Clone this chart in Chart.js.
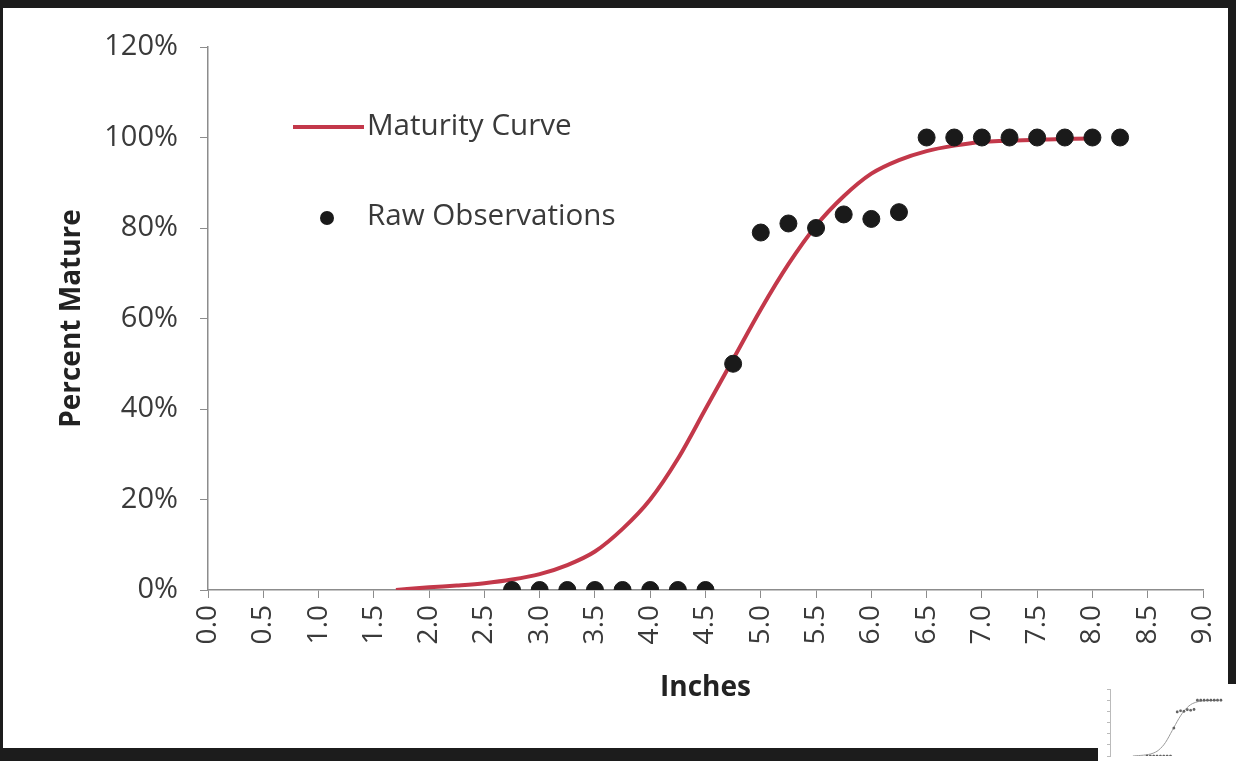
<!DOCTYPE html>
<html>
<head>
<meta charset="utf-8">
<script src="https://cdn.jsdelivr.net/npm/chart.js@4/dist/chart.umd.min.js"></script>
<style>
  html, body { margin: 0; padding: 0; }
  body { width: 1236px; height: 761px; background: #1c1c1c; position: relative; overflow: hidden; font-family: "Open Sans", sans-serif; }
  #panel { position: absolute; left: 3px; top: 8px; width: 1225px; height: 740px; background: #fff; }
  #mainChart { position: absolute; left: 0; top: 0; }
  #thumbBox { position: absolute; left: 1098px; top: 684px; width: 138px; height: 77px; background: #fff; }
  #thumbChart { position: absolute; left: 0; top: 0; }
  .legend { position: absolute; font-size: 29.6px; color: #3a3a3a; line-height: 1; }
  .legend span { position: absolute; white-space: nowrap; }
</style>
</head>
<body>
<div id="panel"></div>
<canvas id="mainChart" width="1236" height="761"></canvas>
<div class="legend">
  <div style="position:absolute;left:293px;top:125px;width:71px;height:4px;background:#c3384a;"></div>
  <span style="left:367px;top:109px;">Maturity Curve</span>
  <div style="position:absolute;left:320px;top:211px;width:14px;height:14px;border-radius:50%;background:#1a1a1a;"></div>
  <span style="left:367px;top:199px;">Raw Observations</span>
</div>
<div id="thumbBox"><canvas id="thumbChart" width="138" height="77"></canvas></div>
<script>
// fitted maturity curve (inches, percent mature)
const curveX = [1.7, 2.0, 2.25, 2.5, 2.75, 3.0, 3.25, 3.5, 3.75, 4.0, 4.25, 4.5, 4.75, 5.0, 5.25, 5.5, 5.75, 6.0, 6.25, 6.5, 6.75, 7.0, 7.5, 8.0];
const curveY = [0.0, 0.6, 1.0, 1.5, 2.3, 3.5, 5.5, 8.5, 13.5, 20, 29, 40, 51, 62, 72, 80.5, 87, 92, 95, 97, 98.2, 99, 99.5, 99.8];

// raw observations
const obsX = [2.75, 3.0, 3.25, 3.5, 3.75, 4.0, 4.25, 4.5, 4.75, 5.0, 5.25, 5.5, 5.75, 6.0, 6.25, 6.5, 6.75, 7.0, 7.25, 7.5, 7.75, 8.0, 8.25];
const obsY = [0, 0, 0, 0, 0, 0, 0, 0, 50, 79, 81, 80, 83, 82, 83.5, 100, 100, 100, 100, 100, 100, 100, 100];

const xTicks = [0, 0.5, 1, 1.5, 2, 2.5, 3, 3.5, 4, 4.5, 5, 5.5, 6, 6.5, 7, 7.5, 8, 8.5, 9];
const yTicks = [0, 20, 40, 60, 80, 100, 120];

const curvePts = curveX.map((x, i) => ({ x: x, y: curveY[i] }));
const obsPts = obsX.map((x, i) => ({ x: x, y: obsY[i] }));

const axisGrey = '#8c8c8c';

new Chart(document.getElementById('mainChart'), {
  type: 'scatter',
  data: {
    datasets: [
      {
        label: 'Raw Observations',
        data: obsPts,
        backgroundColor: '#1a1a1a',
        borderColor: '#1a1a1a',
        pointRadius: 8.5,
        showLine: false,
        order: 0
      },
      {
        label: 'Maturity Curve',
        data: curvePts,
        borderColor: '#c3384a',
        borderWidth: 4,
        pointRadius: 0,
        showLine: true,
        tension: 0.4,
        cubicInterpolationMode: 'monotone',
        order: 1
      }
    ]
  },
  options: {
    responsive: false,
    animation: false,
    layout: { padding: { left: 51, right: 33, top: 47, bottom: 52 } },
    plugins: { legend: { display: false }, tooltip: { enabled: false } },
    scales: {
      x: {
        type: 'linear',
        min: 0,
        max: 9,
        afterBuildTicks: (axis) => { axis.ticks = xTicks.map(v => ({ value: v })); },
        afterFit: (axis) => { axis.height = 119; axis.paddingLeft = 0; axis.paddingRight = 0; },
        ticks: {
          callback: (v) => Number(v).toFixed(1),
          minRotation: 90,
          maxRotation: 90,
          padding: 7,
          color: '#3a3a3a',
          font: { family: 'Open Sans', size: 28 }
        },
        grid: { drawOnChartArea: false, tickLength: 8, color: axisGrey },
        border: { color: axisGrey, width: 1.5 },
        title: { display: true, text: 'Inches', color: '#222', font: { family: 'Open Sans', size: 28, weight: 'bold' } }
      },
      y: {
        min: 0,
        max: 120,
        afterBuildTicks: (axis) => { axis.ticks = yTicks.map(v => ({ value: v })); },
        afterFit: (axis) => { axis.width = 157; axis.paddingTop = 0; axis.paddingBottom = 0; },
        ticks: {
          callback: (v) => v + '%',
          padding: 22,
          color: '#3a3a3a',
          font: { family: 'Open Sans', size: 29 }
        },
        grid: { drawOnChartArea: false, tickLength: 8, color: axisGrey },
        border: { color: axisGrey, width: 1.5 },
        title: { display: true, text: 'Percent Mature', color: '#222', font: { family: 'Open Sans', size: 28, weight: 'bold' } }
      }
    }
  }
});

// small preview thumbnail in the corner
new Chart(document.getElementById('thumbChart'), {
  type: 'scatter',
  data: {
    datasets: [
      { data: obsPts, backgroundColor: '#666', pointRadius: 1.3, showLine: false },
      { data: curvePts, borderColor: '#999', borderWidth: 1, pointRadius: 0, showLine: true, tension: 0.4 }
    ]
  },
  options: {
    responsive: false,
    animation: false,
    layout: { padding: { left: 9, right: 4, top: 0, bottom: 3 } },
    plugins: { legend: { display: false }, tooltip: { enabled: false } },
    scales: {
      x: { type: 'linear', min: 0, max: 9, display: false },
      y: {
        min: 0, max: 120,
        afterBuildTicks: (axis) => { axis.ticks = yTicks.map(v => ({ value: v })); },
        ticks: { display: false },
        grid: { drawOnChartArea: false, tickLength: 3, color: '#bbb' },
        border: { color: '#bbb' }
      }
    }
  }
});
</script>
</body>
</html>
